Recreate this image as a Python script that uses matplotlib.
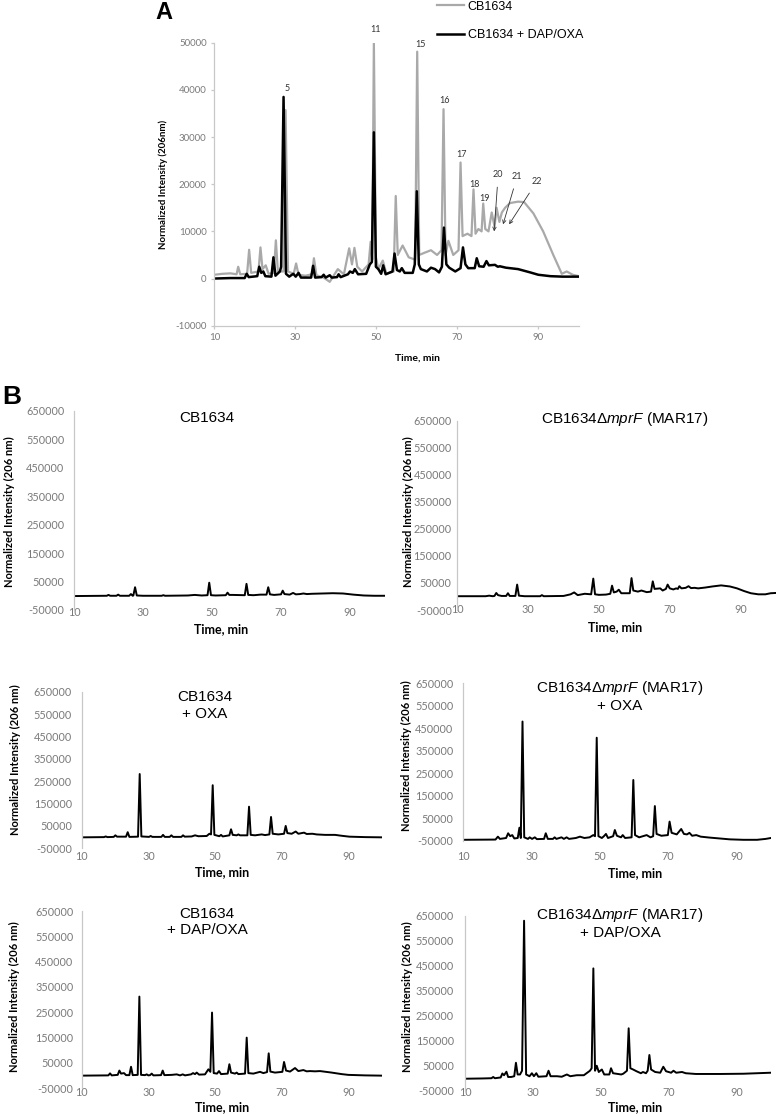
import matplotlib

matplotlib.use("Agg")
import matplotlib.pyplot as plt

plt.rcParams["mathtext.fontset"] = "custom"
plt.rcParams["mathtext.rm"] = "Liberation Sans"
plt.rcParams["mathtext.it"] = "Liberation Sans:italic"
plt.rcParams["axes.unicode_minus"] = False

W, H = 777, 1114

# ---- panel A: (time [min], intensity) ----
A_CB1634 = [
    (10, 800), (12, 1000), (14, 1100), (15.5, 900), (15.9, 2500), (16.4, 900),
    (18.1, 1000), (18.6, 6100), (19.1, 1200), (20.9, 1500), (21.4, 6600),
    (21.9, 2000), (22.7, 2800), (23.4, 1000), (24.7, 1200), (25.2, 8100),
    (25.7, 1500), (27.1, 1500), (27.6, 35700), (28.2, 1500), (29.6, 1000),
    (30.2, 3200), (30.8, 800), (32.5, 600), (34.1, 900), (34.6, 4300),
    (35.2, 700), (37, 200), (38.5, -700), (40.5, 2000), (42, 900),
    (43.3, 6400), (44, 3000), (44.6, 6500), (45.3, 2500), (46.5, 1500),
    (48.1, 3000), (48.6, 7800), (49.0, 4000), (49.4, 50000), (49.9, 4500),
    (50.5, 2000), (51.6, 3800), (52.5, 1000), (54.3, 1500), (54.8, 17500),
    (55.3, 5000), (56.5, 7000), (58, 4500), (59.6, 4000), (60.1, 48100),
    (60.6, 5000), (62, 5500), (63.5, 6000), (65, 5000), (66.1, 6000),
    (66.6, 35900), (67.1, 5000), (67.8, 8000), (69, 5000), (70.3, 6000),
    (70.8, 24600), (71.3, 9000), (72.5, 9500), (73.5, 9000), (74.0, 18900),
    (74.5, 9500), (75.2, 10500), (76.0, 10000), (76.4, 15900), (76.9, 10500),
    (77.7, 10000), (78.5, 14000), (79.2, 11000), (79.7, 15000), (80.4, 12000),
    (81.0, 14000), (81.8, 15000), (83, 16000), (85, 16300), (86.5, 16200),
    (88.8, 13800), (91.2, 10000), (93.7, 5000), (95.8, 1000), (97, 1500),
    (98.5, 800), (100, 500),
]
A_DAP_OXA = [
    (10, 0), (14, 100), (17.5, 100), (18, 1000), (18.5, 300), (20.6, 500),
    (21.1, 2500), (21.6, 1200), (22.1, 1500), (22.6, 500), (24.1, 400),
    (24.6, 4500), (25.1, 600), (26.2, 1500), (26.5, 2500), (27.1, 38500),
    (27.7, 1000), (28.5, 400), (29.5, 1000), (30.1, 400), (30.8, 1200),
    (31.4, 200), (33.9, 200), (34.4, 2700), (34.9, 200), (36.5, 300),
    (37, 800), (37.5, 200), (38.5, 700), (39, 200), (40.3, 300), (40.7, 900),
    (41.2, 300), (43, 900), (43.5, 1500), (44.2, 1200), (44.7, 2000),
    (45.5, 900), (47.5, 1000), (48.4, 3000), (48.9, 3500), (49.4, 31000),
    (49.9, 2500), (50.5, 2000), (51.2, 1000), (51.7, 2800), (52.3, 900),
    (54, 1500), (54.5, 5300), (55.1, 1800), (55.8, 1500), (56.3, 2200),
    (57, 1200), (59, 1200), (59.5, 3000), (60, 18500), (60.5, 3000),
    (61, 2000), (62.5, 1500), (63.5, 2300), (64.5, 2000), (65.5, 1300),
    (66.2, 2500), (66.7, 10800), (67.3, 3000), (68, 2300), (69.5, 1500),
    (70.8, 2200), (71.4, 6600), (72, 3000), (72.7, 2200), (74.3, 2200),
    (74.8, 4300), (75.4, 2600), (76.5, 2500), (77.2, 3700), (77.8, 2800),
    (79.3, 2900), (80, 2500), (80.5, 2600), (82, 2300), (85, 2000),
    (88, 1300), (90, 800), (93, 500), (96, 400), (100, 400),
]
# peak numbers: (label, time, label height)
A_PEAKS = [
    ("5", 27.9, 40200), ("11", 49.9, 52700), ("15", 60.8, 49700),
    ("16", 66.8, 37850), ("17", 71.0, 26200), ("18", 74.2, 20000),
    ("19", 76.7, 17000),
]
# arrowed peak numbers: (label, label time, label height, tip time, tip height)
A_ARROW_PEAKS = [
    ("20", 80.1, 22100, 79.1, 10000),
    ("21", 84.8, 21700, 81.3, 11500),
    ("22", 89.7, 20650, 82.8, 11500),
]

# ---- panel B traces ----
B_CB1634 = [
    (10, -1000), (19.5, 0), (20, 3000), (20.5, 0), (22.3, 0), (22.8, 4000),
    (23.3, 0), (26, 0), (26.5, 6000), (27, 0), (27.2, 1000), (27.7, 30000),
    (28.2, 1000), (30, 0), (35.4, 0), (35.9, 2000), (36.4, 0), (43, 1000),
    (45, 3000), (47, 1000), (48.7, 2000), (49.2, 46000), (49.7, 2000),
    (51, 1000), (54, 2000), (54.5, 11000), (55, 3000), (56, 3000),
    (59.5, 2000), (60, 42000), (60.5, 3000), (62, 2000), (64, 4000),
    (65.8, 4000), (66.3, 30000), (66.8, 5000), (68, 3000), (70, 5000),
    (70.5, 18000), (71, 6000), (72.5, 4000), (73.5, 10000), (74.3, 5000),
    (75.5, 6000), (76.5, 8000), (77.5, 6000), (79, 7000), (82, 8000),
    (85, 9000), (88, 8000), (91, 4000), (94, 1000), (97, 0), (100, 0),
]
B_MAR17 = [
    (10, 1000), (18, 1000), (19, 3000), (20, 1000), (20.5, 2000), (21, 13000),
    (21.5, 5000), (22.5, 2000), (23.8, 2000), (24.3, 12000), (24.8, 2000),
    (26.4, 2000), (26.9, 44000), (27.4, 3000), (29, 1000), (33.4, 1000),
    (33.9, 5000), (34.4, 1000), (40, 2000), (42, 8000), (43, 15000),
    (44, 5000), (46, 10000), (47.8, 8000), (48.4, 66000), (48.9, 8000),
    (50, 6000), (52, 7000), (53.2, 10000), (53.7, 40000), (54.2, 15000),
    (55, 18000), (55.6, 25000), (56.3, 12000), (58.7, 12000), (59.2, 68000),
    (59.7, 22000), (61, 18000), (62, 22000), (63.5, 16000), (64.7, 18000),
    (65.2, 56000), (65.7, 28000), (67.3, 30000), (68, 22000), (68.9, 28000),
    (69.4, 44000), (70, 30000), (71, 26000), (71.8, 30000), (72.3, 28000),
    (72.7, 38000), (73.3, 30000), (74.5, 32000), (75.3, 38000), (76, 31000),
    (77, 32000), (78, 30000), (80, 33000), (82, 37000), (84.5, 41000),
    (87, 37000), (89, 30000), (91, 20000), (92.9, 12000), (95, 8000),
    (97, 8000), (98.5, 12000), (100, 13000),
]
B_CB1634_OXA = [
    (10, -1000), (16.7, 0), (17.2, 3000), (17.7, 0), (19.6, 1000), (20.1, 8000),
    (20.6, 2000), (23.3, 2000), (23.8, 22000), (24.3, 1000), (26.9, 2000),
    (27.4, 282000), (27.9, 3000), (30.2, 1000), (30.7, 5000), (31.2, 1000),
    (33.9, 1000), (34.4, 10000), (34.9, 1000), (36.4, 1000), (36.9, 8000),
    (37.4, 1000), (39.9, 1000), (40.4, 8000), (40.9, 2000), (43, 3000),
    (44, 8000), (45, 4000), (47.5, 5000), (48.3, 15000), (48.8, 12000),
    (49.3, 232000), (49.8, 10000), (51.3, 4000), (51.8, 10000), (52.3, 3000),
    (54.3, 8000), (54.8, 35000), (55.3, 10000), (56.5, 8000), (57, 12000),
    (57.5, 8000), (59.7, 8000), (60.2, 136000), (60.7, 10000), (62, 8000),
    (64, 12000), (65, 9000), (66.3, 12000), (66.8, 90000), (67.3, 15000),
    (69, 12000), (70.7, 15000), (71.2, 50000), (71.7, 18000), (73, 15000),
    (74.2, 25000), (75, 15000), (76.7, 20000), (77.5, 14000), (79.2, 15000),
    (80.5, 12000), (83, 10000), (86, 10000), (88, 6000), (90.3, 2000),
    (95, 0), (100, -1000),
]
B_MAR17_OXA = [
    (10, -46000), (19.5, -45000), (20.2, -32000), (20.8, -42000),
    (22.6, -38000), (23.2, -17000), (23.8, -30000), (24.4, -25000),
    (25, -40000), (26, -38000), (26.5, 8000), (26.9, -38000), (27.4, 480000),
    (27.9, -35000), (29, -42000), (29.5, -35000), (30.2, -42000),
    (31, -35000), (31.6, -43000), (33.7, -42000), (34.2, -17000),
    (34.8, -42000), (36.3, -42000), (36.8, -35000), (37.3, -42000),
    (38.8, -35000), (39.5, -42000), (40.3, -35000), (41, -42000),
    (43, -38000), (44.2, -32000), (45.5, -38000), (47, -35000),
    (48.1, -25000), (48.6, -30000), (49.1, 408000), (49.6, -30000),
    (50.6, -38000), (51.2, -30000), (51.8, -20000), (52.4, -38000),
    (53.9, -30000), (54.4, -2500), (55, -28000), (56.2, -35000),
    (56.7, -25000), (57.4, -38000), (59.3, -35000), (59.8, 220000),
    (60.3, -25000), (61.5, -35000), (63.7, -25000), (64.8, -35000),
    (65.6, -30000), (66.1, 104000), (66.6, -20000), (68, -28000),
    (69.9, -25000), (70.4, 35000), (71, -15000), (72.5, -22000),
    (73.8, 2000), (74.6, -20000), (75.5, -22000), (76.2, -15000),
    (77, -28000), (78.2, -25000), (79.5, -32000), (82, -36000),
    (85, -40000), (88, -44000), (92, -46000), (96, -46000), (98.5, -42000),
    (100, -38000),
]
B_CB1634_DAP_OXA = [
    (10, 0), (18, 1000), (18.5, 9000), (19, 1000), (20.8, 3000), (21.3, 20000),
    (21.8, 8000), (22.7, 10000), (23.3, 2000), (24.3, 2000), (24.8, 35000),
    (25.3, 2000), (26.8, 3000), (27.3, 312000), (27.8, 3000), (29, 2000),
    (29.5, 5000), (30, 1000), (30.5, 2000), (31, 8000), (31.5, 1000),
    (33.8, 2000), (34.3, 20000), (34.8, 2000), (37, 3000), (38.5, 5000),
    (39.5, 1000), (40.3, 5000), (41, 1000), (42.8, 5000), (43.4, 10000),
    (44, 6000), (44.5, 12000), (45.2, 4000), (47, 5000), (48, 25000),
    (48.6, 15000), (49.1, 249000), (49.6, 10000), (50.6, 8000), (51.2, 18000),
    (51.8, 6000), (53.8, 8000), (54.3, 45000), (54.8, 12000), (56, 8000),
    (56.5, 12000), (57, 6000), (59, 8000), (59.5, 150000), (60, 10000),
    (61.5, 8000), (63.5, 15000), (64.5, 10000), (65.6, 14000), (66.1, 88000),
    (66.6, 16000), (68, 12000), (70.2, 15000), (70.7, 54000), (71.3, 20000),
    (72.5, 16000), (74, 30000), (75, 18000), (76.5, 22000), (77.5, 17000),
    (78.5, 18000), (80, 17000), (81.5, 18000), (85, 12000), (88, 6000),
    (90, 3000), (95, 1000), (100, 0),
]
B_MAR17_DAP_OXA = [
    (10, -2000), (15, -1000), (17.8, 0), (18.3, 5000), (18.8, 0), (20.5, 3000),
    (21, 19000), (21.5, 12000), (22.2, 26000), (22.7, 5000), (23.6, 5000),
    (24.5, 8000), (25, 62000), (25.5, 15000), (26.2, 15000), (26.8, 30000),
    (27.4, 631000), (28, 15000), (29, 8000), (29.7, 20000), (30.3, 8000),
    (31, 20000), (31.6, 6000), (34, 8000), (34.6, 30000), (35.2, 8000),
    (37.1, 8000), (38.5, 6000), (40, 15000), (41, 8000), (42.9, 12000),
    (45, 12000), (46.8, 30000), (47.3, 40000), (47.8, 440000), (48.3, 30000),
    (48.8, 50000), (49.4, 25000), (50.3, 35000), (51, 15000), (52.5, 15000),
    (53, 40000), (53.6, 20000), (56, 15000), (56.6, 18000), (57.7, 30000),
    (58.2, 200000), (58.7, 40000), (59.5, 35000), (60.5, 28000),
    (61.8, 20000), (62.4, 25000), (63.3, 20000), (63.8, 30000), (64.3, 93000),
    (64.8, 35000), (66, 25000), (67.5, 22000), (68.4, 46000), (69.2, 28000),
    (70.7, 22000), (71.4, 30000), (72.2, 22000), (73.9, 25000), (75, 20000),
    (78, 17000), (85, 17000), (92, 18000), (100, 22000),
]

MPRF = r"CB1634$\mathit{ΔmprF}$ (MAR17)"
B_TITLES = [
    "CB1634", MPRF,
    "CB1634\n+ OXA", MPRF + "\n+ OXA",
    "CB1634\n+ DAP/OXA", MPRF + "\n+ DAP/OXA",
]
B_DATA = [B_CB1634, B_MAR17, B_CB1634_OXA, B_MAR17_OXA,
          B_CB1634_DAP_OXA, B_MAR17_DAP_OXA]
X_TICKS = [10, 30, 50, 70, 90]
B_Y_TICKS = list(range(-50000, 650001, 100000))

TICK_FONT = "Lato"
TITLE_FONT = "Liberation Sans"
TICK_COLOR = "#7a7a7a"
AXIS_COLOR = "#c8c8c8"


def axes_px(fig, left, top, right, bottom):
    return fig.add_axes([left / W, 1 - bottom / H, (right - left) / W,
                         (bottom - top) / H])


def text_px(fig, x, y, s, **kw):
    return fig.text(x / W, 1 - y / H, s, **kw)


def main() -> None:
    fig = plt.figure(figsize=(W / 100, H / 100), dpi=100)

    # ------------------------------------------------------------ panel A
    ax = axes_px(fig, 214.3, 42.7, 578.8, 325.7)
    t, y = zip(*A_CB1634)
    ax.plot(t, y, color="#a9a9a9", lw=1.6, label="CB1634")
    t, y = zip(*A_DAP_OXA)
    ax.plot(t, y, color="black", lw=1.8, label="CB1634 + DAP/OXA")
    ax.set_xlim(10, 100)
    ax.set_ylim(-10000, 50000)
    ax.set_xticks(X_TICKS)
    ax.set_yticks(range(-10000, 50001, 10000))
    for s in ("top", "right"):
        ax.spines[s].set_visible(False)
    for s in ("left", "bottom"):
        ax.spines[s].set_color(AXIS_COLOR)
        ax.spines[s].set_linewidth(0.9)
    ax.tick_params(colors=AXIS_COLOR, labelcolor=TICK_COLOR, length=2.5,
                   width=0.9, labelsize=7, pad=3)
    for lab in ax.get_xticklabels() + ax.get_yticklabels():
        lab.set_family(TICK_FONT)

    for lab, pt, py in A_PEAKS:
        ax.text(pt, py, lab, ha="center", va="center", fontsize=6.5,
                family=TICK_FONT, color="#333333")
    for lab, pt, py, tt, ty in A_ARROW_PEAKS:
        ax.annotate(lab, xy=(tt, ty), xytext=(pt, py), ha="center",
                    va="center", fontsize=6.5, family=TICK_FONT,
                    color="#333333",
                    arrowprops=dict(arrowstyle="->", lw=0.6, color="#333333",
                                    shrinkA=4, shrinkB=0,
                                    mutation_scale=6))

    ax.legend(loc="upper left", bbox_to_anchor=(436 / W, 1 - 0 / H),
              bbox_transform=fig.transFigure, frameon=False,
              prop={"family": TITLE_FONT, "size": 9}, handlelength=2.2,
              handletextpad=0.3, labelspacing=1.3, borderpad=0.05,
              borderaxespad=0)

    text_px(fig, 155, 19, "A", fontsize=17, fontweight="bold",
            family=TITLE_FONT, va="baseline")
    text_px(fig, 163, 184, "Normalized Intensity (206nm)", rotation=90,
            fontsize=7, fontweight="bold", family=TICK_FONT,
            ha="center", va="center")
    text_px(fig, 418, 358, "Time, min", fontsize=7.5, fontweight="bold",
            family=TICK_FONT, ha="center", va="center")

    # ------------------------------------------------------------ panel B
    # axes box (left, top, right, bottom), x-tick pad, y-tick pad,
    # y-label (x, y), x-label (x, y), title centre (x, y)
    layout = [
        ((74, 410.8, 384.5, 610), -2.2, 7, (9, 512), (221, 629), (207, 418)),
        ((457.3, 420.7, 776, 610), -4.3, 4, (408, 512), (615, 627),
         (625, 419)),
        ((81.7, 691.7, 381.7, 848.3), 1.9, 7, (15, 760), (222, 872),
         (205, 705.5)),
        ((463, 683.3, 770.8, 840.7), 7.6, 7, (406, 756), (635, 873),
         (620, 696)),
        ((81.7, 911, 381.7, 1088.3), -0.9, 6, (14, 997), (222, 1107),
         (207, 922)),
        ((465, 916, 770.6, 1090.7), -2.4, 8, (407, 997), (635, 1107),
         (620, 923)),
    ]
    for data, title, (box, xpad, ypad, ylab, xlab, tpos) in zip(
            B_DATA, B_TITLES, layout):
        ax = axes_px(fig, *box)
        t, y = zip(*data)
        ax.plot(t, y, color="black", lw=1.4)
        ax.set_xlim(10, 100)
        ax.set_ylim(-50000, 650000)
        ax.set_xticks(X_TICKS)
        ax.set_yticks(B_Y_TICKS)
        for s in ("top", "right", "bottom"):
            ax.spines[s].set_visible(False)
        ax.spines["left"].set_color(AXIS_COLOR)
        ax.spines["left"].set_linewidth(0.9)
        ax.tick_params(length=0, labelcolor=TICK_COLOR, labelsize=7.8)
        ax.tick_params(axis="x", pad=xpad)
        ax.tick_params(axis="y", pad=ypad)
        for lab in ax.get_xticklabels() + ax.get_yticklabels():
            lab.set_family(TICK_FONT)

        text_px(fig, *ylab, "Normalized Intensity (206 nm)", rotation=90,
                fontsize=8, fontweight="bold", family=TICK_FONT,
                ha="center", va="center")
        text_px(fig, *xlab, "Time, min", fontsize=9, fontweight="bold",
                family=TICK_FONT, ha="center", va="center")
        text_px(fig, *tpos, title, fontsize=11, family=TITLE_FONT,
                ha="center", va="center", linespacing=1.2)

    text_px(fig, 2, 404, "B", fontsize=19, fontweight="bold",
            family=TITLE_FONT, va="baseline")

    fig.savefig("out.png", dpi=100)


if __name__ == "__main__":
    main()
